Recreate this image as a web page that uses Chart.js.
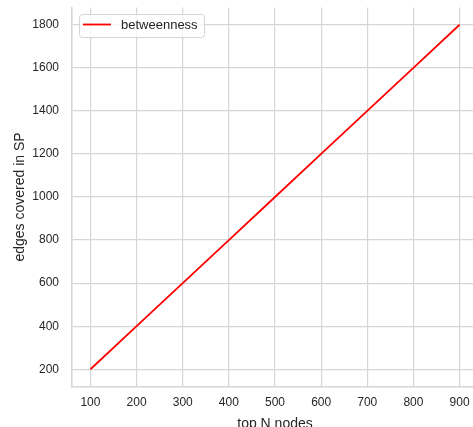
<!DOCTYPE html>
<html>
<head>
<meta charset="utf-8">
<script src="https://cdn.jsdelivr.net/npm/chart.js@4/dist/chart.umd.min.js"></script>
<style>
  html, body { margin: 0; padding: 0; background: #fff; overflow: hidden; }
  #wrap { width: 473px; height: 427px; overflow: hidden; position: relative; }
  canvas { position: absolute; left: 0; top: 0; }
</style>
</head>
<body>
<div id="wrap"><canvas id="c" width="490" height="427"></canvas></div>
<script>
// top-N node counts and the number of edges covered by shortest paths
const topN = [100, 200, 300, 400, 500, 600, 700, 800, 900];
const edgesCovered = [200, 400, 600, 800, 1000, 1200, 1400, 1600, 1800];
const xTicks = [100, 200, 300, 400, 500, 600, 700, 800, 900];
const yTicks = [200, 400, 600, 800, 1000, 1200, 1400, 1600, 1800];
const seriesName = 'betweenness';

const FONT = "'Liberation Sans', Arial, sans-serif";
const TEXT = '#262626';
const GRID = '#d6d6d6';

// legend box drawn inside the upper-left corner of the plot
const innerLegend = {
  id: 'innerLegend',
  afterDraw(chart) {
    const ctx = chart.ctx;
    const ds = chart.data.datasets[0];
    const x = 79, y = 14, w = 125, h = 23, r = 3;
    ctx.save();
    ctx.beginPath();
    ctx.roundRect(x + 0.5, y + 0.5, w, h, r);
    ctx.fillStyle = 'rgba(255,255,255,0.8)';
    ctx.fill();
    ctx.strokeStyle = '#d4d4d4';
    ctx.lineWidth = 1;
    ctx.stroke();
    ctx.beginPath();
    ctx.moveTo(83, 24.5);
    ctx.lineTo(111, 24.5);
    ctx.strokeStyle = ds.borderColor;
    ctx.lineWidth = ds.borderWidth;
    ctx.stroke();
    ctx.fillStyle = TEXT;
    ctx.font = '13px ' + FONT;
    ctx.textBaseline = 'middle';
    ctx.fillText(ds.label, 121, 25.5);
    ctx.restore();
  }
};

new Chart(document.getElementById('c'), {
  type: 'line',
  data: {
    datasets: [{
      label: seriesName,
      data: topN.map((n, i) => ({ x: n, y: edgesCovered[i] })),
      borderColor: '#ff0000',
      borderWidth: 1.8,
      pointRadius: 0,
      tension: 0,
      fill: false
    }]
  },
  options: {
    responsive: false,
    animation: false,
    layout: { padding: { top: 7.5, right: 12, left: 0, bottom: 0 } },
    plugins: { legend: { display: false }, tooltip: { enabled: false } },
    scales: {
      x: {
        type: 'linear',
        min: 60,
        max: 940,
        afterBuildTicks(scale) { scale.ticks = xTicks.map(v => ({ value: v })); },
        afterFit(scale) { scale.height = 40.5; scale.paddingLeft = 0; scale.paddingRight = 0; },
        grid: { color: GRID, lineWidth: 1.2, drawTicks: false },
        border: { display: true, color: GRID, width: 1.6 },
        ticks: { color: TEXT, font: { family: FONT, size: 12 }, padding: 9, maxRotation: 0, callback: v => String(v) },
        title: { display: true, text: 'top N nodes', color: TEXT, font: { family: FONT, size: 14 }, padding: { top: 0, bottom: -6 } }
      },
      y: {
        type: 'linear',
        min: 120,
        max: 1880,
        afterBuildTicks(scale) { scale.ticks = yTicks.map(v => ({ value: v })); },
        afterFit(scale) { scale.width = 72; scale.paddingTop = 0; scale.paddingBottom = 0; },
        grid: { color: GRID, lineWidth: 1.2, drawTicks: false },
        border: { display: true, color: GRID, width: 1.6 },
        ticks: { color: TEXT, font: { family: FONT, size: 12 }, padding: 13, callback: v => String(v) },
        title: { display: true, text: 'edges covered in SP', color: TEXT, font: { family: FONT, size: 14 }, padding: { top: 12, bottom: 0 } }
      }
    }
  },
  plugins: [innerLegend]
});
</script>
</body>
</html>
